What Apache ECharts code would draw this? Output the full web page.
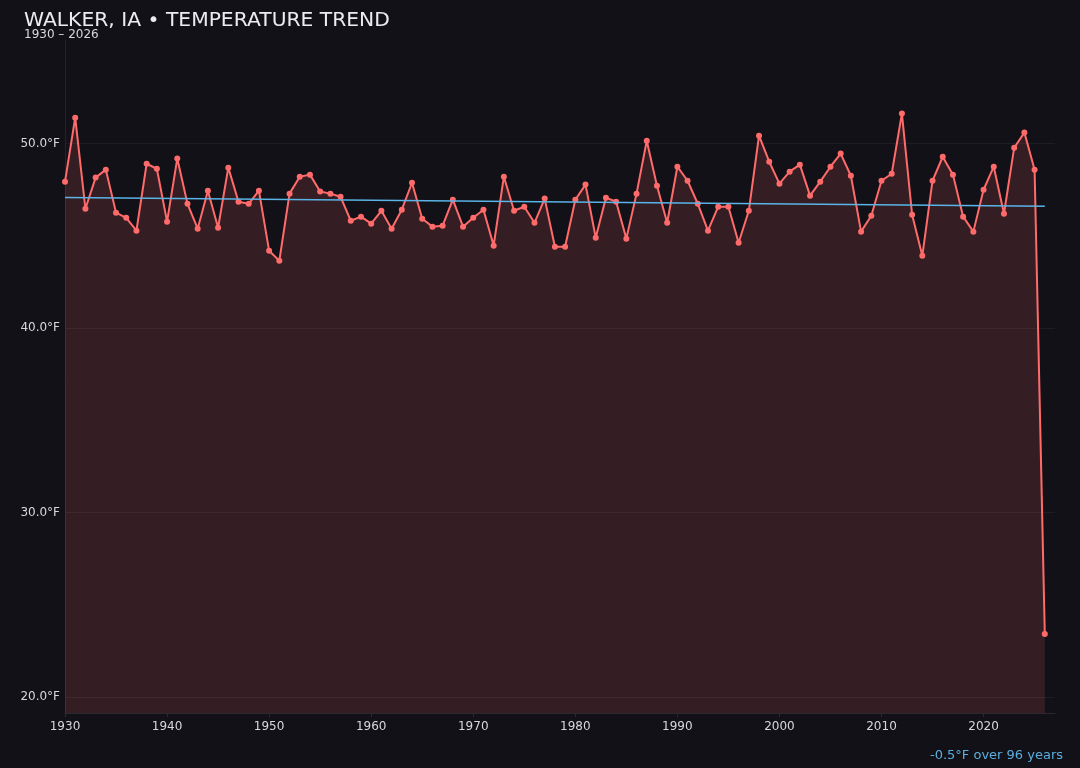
<!DOCTYPE html>
<html>
<head>
<meta charset="utf-8">
<script src="https://cdn.jsdelivr.net/npm/echarts@6/dist/echarts.min.js"></script>
<style>
html,body{margin:0;padding:0;background:#121117;}
#c{width:1080px;height:768px;}
</style>
</head>
<body>
<div id="c"></div>
<script>
const years = [];
for (let y = 1930; y <= 2026; y++) years.push(y);
const temps = [
  47.94, 51.41, 46.47, 48.16, 48.59, 46.26, 45.98, 45.28, 48.91, 48.64,
  45.77, 49.19, 46.74, 45.39, 47.45, 45.44, 48.70, 46.85, 46.74, 47.45,
  44.19, 43.65, 47.29, 48.21, 48.32, 47.40, 47.29, 47.12, 45.82, 46.04,
  45.66, 46.36, 45.39, 46.42, 47.88, 45.93, 45.50, 45.55, 46.96, 45.50,
  45.98, 46.42, 44.47, 48.21, 46.36, 46.58, 45.71, 47.02, 44.41, 44.41,
  46.96, 47.78, 44.90, 47.07, 46.85, 44.85, 47.29, 50.16, 47.72, 45.71,
  48.75, 47.99, 46.74, 45.28, 46.58, 46.58, 44.63, 46.36, 50.43, 49.02,
  47.83, 48.48, 48.86, 47.18, 47.94, 48.75, 49.46, 48.26, 45.23, 46.09,
  47.99, 48.37, 51.63, 46.15, 43.92, 47.99, 49.29, 48.32, 46.04, 45.23,
  47.50, 48.75, 46.20, 49.78, 50.60, 48.59, 23.41
];
const trendYears = [1930, 2026];
const trendValues = [47.08, 46.60];
const yTicks = [20, 30, 40, 50];
const xTicks = [1930, 1940, 1950, 1960, 1970, 1980, 1990, 2000, 2010, 2020];
const titleText = 'WALKER, IA • TEMPERATURE TREND';
const subtitleText = '1930 – 2026';
const footerText = '-0.5°F over 96 years';

const chart = echarts.init(document.getElementById('c'));
const font = 'DejaVu Sans';
chart.setOption({
  backgroundColor: '#121117',
  animation: false,
  textStyle: { fontFamily: font },
  title: [
    { text: titleText, left: 24, top: 11, padding: 0,
      textStyle: { color: '#ececf0', fontSize: 20.3, fontWeight: 'normal', fontFamily: font } },
    { text: subtitleText, left: 24, top: 29, padding: 0,
      textStyle: { color: '#d8d8dc', fontSize: 12, fontWeight: 'normal', fontFamily: font } }
  ],
  graphic: [
    { type: 'text', right: 17, top: 749,
      style: { text: footerText, fill: '#5aafe0', fontSize: 13, fontFamily: font } }
  ],
  grid: { left: 65, right: 25, top: 40, bottom: 55 },
  xAxis: {
    type: 'value', min: 1930, max: 2027,
    axisLine: { show: true, lineStyle: { color: '#2a2930' } },
    axisTick: { show: true, length: 4, customValues: xTicks, lineStyle: { color: '#2a2930' } },
    axisLabel: { color: '#d8d8dc', fontSize: 12, fontFamily: font, customValues: xTicks,
      formatter: v => String(v) },
    splitLine: { show: false }
  },
  yAxis: {
    type: 'value', min: 19.13, max: 55.62,
    axisLine: { show: true, lineStyle: { color: '#24232a' } },
    axisTick: { show: false, customValues: yTicks },
    axisLabel: { color: '#d8d8dc', fontSize: 12, fontFamily: font, customValues: yTicks, margin: 5,
      formatter: v => v.toFixed(1) + '°F' },
    splitLine: { show: true, lineStyle: { color: '#1e1d24', width: 1 } }
  },
  series: [
    {
      type: 'line',
      data: years.map((y, i) => [y, temps[i]]),
      symbol: 'circle', symbolSize: 6,
      lineStyle: { color: '#ff6b6b', width: 2 },
      itemStyle: { color: '#ff6b6b' },
      areaStyle: { color: 'rgba(255,107,107,0.15)', opacity: 1, origin: 'start' },
      z: 3
    },
    {
      type: 'line',
      data: trendYears.map((y, i) => [y, trendValues[i]]),
      symbol: 'none',
      lineStyle: { color: '#5ab4e6', width: 1.5 },
      z: 4
    }
  ]
});
</script>
</body>
</html>
